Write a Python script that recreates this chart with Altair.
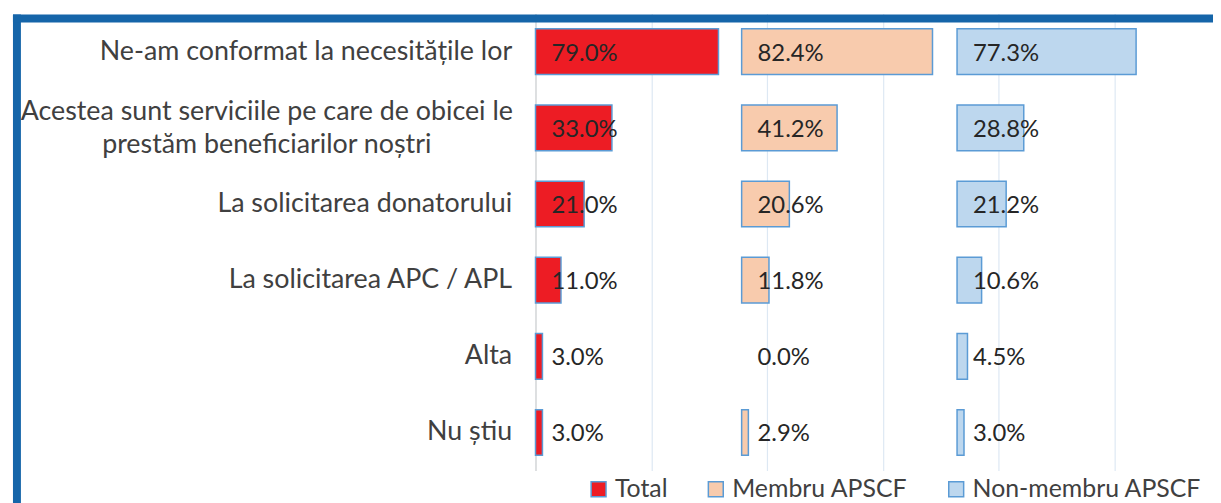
import altair as alt
import pandas as pd

# ---- data ----
categories = [
    "Ne-am conformat la necesitățile lor",
    "Acestea sunt serviciile pe care de obicei le|prestăm beneficiarilor noștri",
    "La solicitarea donatorului",
    "La solicitarea APC / APL",
    "Alta",
    "Nu știu",
]
series = ["Total", "Membru APSCF", "Non-membru  APSCF"]
total = [79.0, 33.0, 21.0, 11.0, 3.0, 3.0]
membru = [82.4, 41.2, 20.6, 11.8, 0.0, 2.9]
non_membru = [77.3, 28.8, 21.2, 10.6, 4.5, 3.0]
# start of each series' block on the shared axis (1 unit = 100%)
panel_start = [0.0, 0.89, 1.82]
grid_values = [0.0, 0.5, 1.0, 1.5, 2.0, 2.5, 3.0]
colors = ["#ED1C24", "#F8CBAD", "#BDD7EE"]

rows = []
for s, vals, start in zip(series, [total, membru, non_membru], panel_start):
    for c, v in zip(categories, vals):
        rows.append({"category": c, "series": s, "value": v, "x0": start,
                     "x1": start + v / 100.0,
                     "label": f"{v:.1f}%"})
df = pd.DataFrame(rows)

FONT = "Lato"
BLUE = "#1565A9"
WRAP = "indexof(datum.value, '|') >= 0"

y_enc = alt.Y(
    "category:N",
    sort=categories,
    scale=alt.Scale(paddingInner=0.4, paddingOuter=0.2),
    axis=alt.Axis(
        title=None,
        ticks=False,
        grid=False,
        labelExpr="split(datum.value, '|')",
        labelFont=FONT,
        labelFontSize=27,
        labelColor="#404040",
        labelLimit=700,
        labelLineHeight=33,
        labelBaseline="middle",
        labelAlign={"condition": {"test": WRAP, "value": "center"}, "value": "right"},
        labelPadding={"condition": {"test": WRAP, "value": 271}, "value": 24},
        labelOffset={"condition": {"test": WRAP, "value": -16}, "value": 0},
        domainColor="#D9D9D9",
        domainWidth=1.5,
    ),
)

x_scale = alt.Scale(domain=[0, 2.925], nice=False, zero=False)

bars = (
    alt.Chart(df)
    .transform_filter("datum.value > 0")
    .mark_bar(stroke="#5B9BD5", strokeWidth=1.5)
    .encode(
        y=y_enc,
        x=alt.X(
            "x1:Q",
            scale=x_scale,
            axis=alt.Axis(
                title=None, values=grid_values, labels=False, ticks=False,
                domain=False, grid=True, gridColor="#DDE8F3", gridWidth=1.2,
            ),
        ),
        x2="x0:Q",
        color=alt.Color(
            "series:N",
            sort=series,
            scale=alt.Scale(domain=series, range=colors),
            legend=alt.Legend(
                orient="none", legendX=51, legendY=466, direction="horizontal",
                title=None, symbolType="square", symbolSize=225,
                symbolStrokeColor="#5B9BD5", symbolStrokeWidth=1.5,
                labelFont=FONT, labelFontSize=25, labelColor="#404040",
                columnPadding=36, labelOffset=4, padding=0, labelLimit=500,
            ),
        ),
    )
)

labels = (
    alt.Chart(df)
    .mark_text(align="left", baseline="middle", dx=16, dy=2, font=FONT,
               fontSize=24, color="#262626")
    .encode(y=alt.Y("category:N", sort=categories), x=alt.X("x0:Q", scale=x_scale), text="label:N")
)

frame_df = pd.DataFrame({"k": [0]})
frame_left = alt.Chart(frame_df).mark_rect(color=BLUE).encode(
    x=alt.value(-526), x2=alt.value(-518), y=alt.value(1), y2=alt.value(520)
)
frame_top = alt.Chart(frame_df).mark_rect(color=BLUE).encode(
    x=alt.value(-526), x2=alt.value(700), y=alt.value(1), y2=alt.value(9)
)

chart = (
    alt.layer(bars, labels, frame_left, frame_top)
    .properties(
        width=682, height=460,
        autosize=alt.AutoSizeParams(type="none"),
        padding={"left": 531, "top": 4, "right": 0, "bottom": 31},
        background="white",
    )
    .configure_view(stroke=None)
)

chart.save("out.html", embed_options={"renderer": "svg", "actions": False})
